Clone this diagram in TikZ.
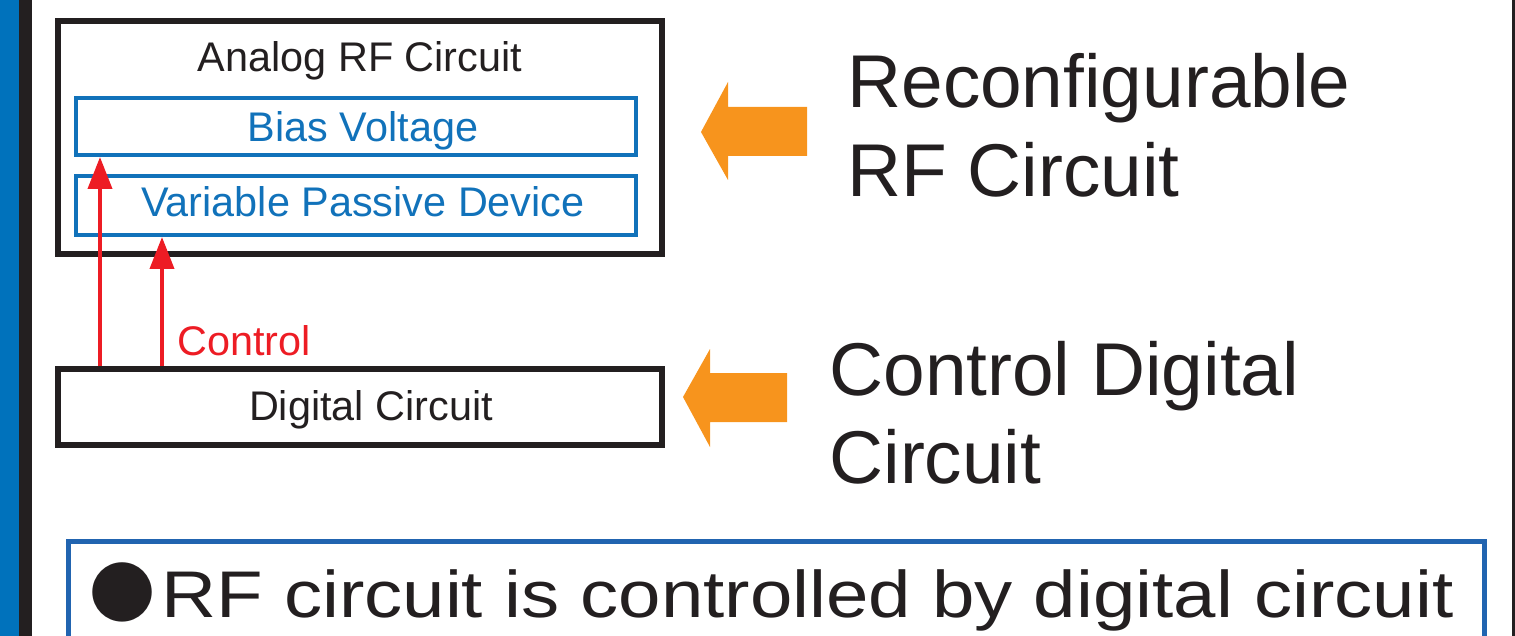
\documentclass[tikz,border=0pt]{standalone}
\usepackage{fontspec}
\setmainfont{Liberation Sans}
\newfontfamily\cjk{Noto Sans CJK JP}
\definecolor{slideBlue}{RGB}{0,114,188}
\definecolor{boxBlue}{RGB}{17,114,186}
\definecolor{noteBlue}{RGB}{33,100,176}
\definecolor{ctrlRed}{RGB}{237,28,36}
\definecolor{arrowOrange}{RGB}{247,148,29}
\definecolor{inkBlack}{RGB}{35,31,32}
\usetikzlibrary{arrows.meta, positioning}

\begin{document}
\begin{tikzpicture}[x=0.5pt, y=-0.5pt,
	block/.style={draw=inkBlack, line width=2.8pt, inner sep=0pt},
	subblock/.style={draw=boxBlue, line width=2pt, inner sep=0pt},
	txt/.style={inner sep=0pt, anchor=base, font=\fontsize{20.7}{24}\selectfont},
	bigtxt/.style={inner sep=0pt, anchor=base west, text=inkBlack, font=\fontsize{37.4}{44}\selectfont},
	ctrl/.style={-{Triangle[width=12pt,length=16pt]}, ctrlRed, line width=2pt}]

\useasboundingbox (0,0) rectangle (1515,636);

% slide frame
\fill[slideBlue] (0,0) rectangle (19,636);
\fill[inkBlack] (19,0) rectangle (32,636);
\fill[inkBlack] (1512,0) rectangle (1515,636);

% circuit blocks
\node[block, minimum width=302pt, minimum height=116.5pt] (analog) at (360,137.5) {};
\node[subblock, minimum width=280pt, minimum height=28.5pt] (bias) at (356,126.5) {};
\node[subblock, minimum width=280pt, minimum height=29.5pt] (varpass) at (356,205.5) {};
\node[block, minimum width=302pt, minimum height=38pt] (digital) at (360,407) {};

\node[txt, text=inkBlack] (analogtxt) at (360,72) {Analog RF Circuit};
\node[txt, text=boxBlue] (biastxt) at (363,142) {Bias Voltage};
\node[txt, text=boxBlue] (varpasstxt) at (363,217) {Variable Passive Device};
\node[txt, text=inkBlack] (digitaltxt) at (371,420) {Digital Circuit};
\node[txt, anchor=base west, text=ctrlRed] (ctrltxt) at (177,355) {Control};

% control lines
\draw[ctrl] (digital.north -| 100,0) -- (bias.south -| 100,0);
\draw[ctrl] (digital.north -| 162,0) -- (varpass.south -| 162,0);

% block arrows
\fill[arrowOrange] (701,132) -- (728,82) -- (728,107) -- (807,107) -- (807,156) -- (728,156) -- (728,180) -- cycle;
\fill[arrowOrange] (683,397) -- (710,349) -- (710,373) -- (787,373) -- (787,422) -- (710,422) -- (710,447) -- cycle;

\node[bigtxt] (recon) at (847,108) {Reconfigurable};
\node[bigtxt] (rfcirc) at (847,197) {RF Circuit};
\node[bigtxt] (ctrldig) at (829,395) {Control Digital};
\node[bigtxt] (circ) at (829,483) {Circuit};

% summary
\draw[noteBlue, line width=2.5pt] (68.5,660) -- (68.5,541.5) -- (1484.5,541.5) -- (1484.5,660);
\node[inner sep=0pt, anchor=base west, text=inkBlack, font=\fontsize{33}{40}\selectfont] (note) at (89,617)
	{{\cjk ●}\hspace{3pt}\scalebox{1.155}[1]{RF circuit is controlled by digital circuit}};

\end{tikzpicture}
\end{document}
